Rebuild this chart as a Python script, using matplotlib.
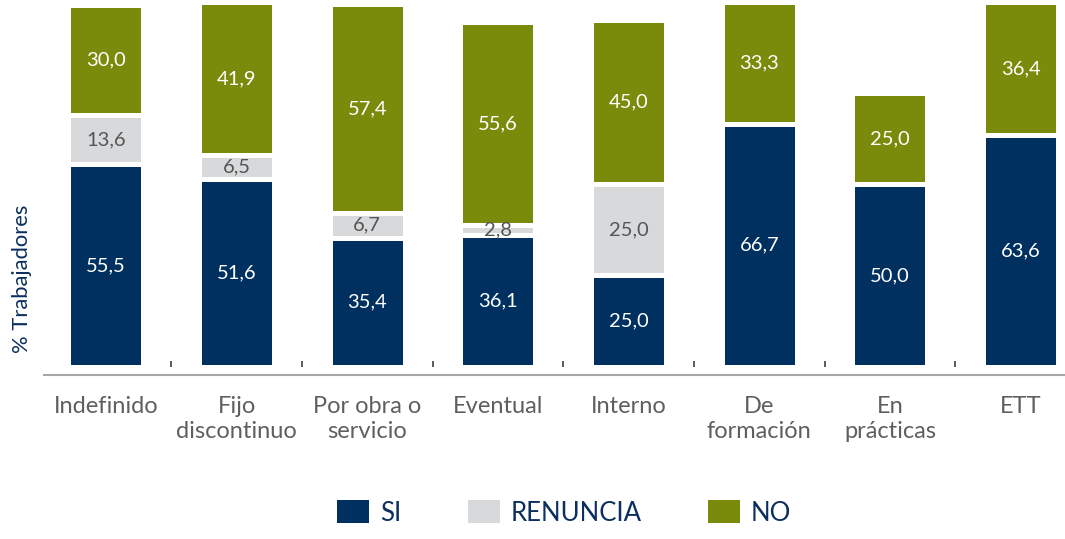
import matplotlib
matplotlib.use("Agg")
import matplotlib.pyplot as plt
import numpy as np
from matplotlib.transforms import blended_transform_factory

categories = ["Indefinido", "Fijo\ndiscontinuo", "Por obra o\nservicio", "Eventual",
              "Interno", "De\nformación", "En\nprácticas", "ETT"]
si = [55.5, 51.6, 35.4, 36.1, 25.0, 66.7, 50.0, 63.6]
renuncia = [13.6, 6.5, 6.7, 2.8, 25.0, 0.0, 0.0, 0.0]
no = [30.0, 41.9, 57.4, 55.6, 45.0, 33.3, 25.0, 36.4]
series_names = ["SI", "RENUNCIA", "NO"]

colors = ["#00305f", "#d8d9db", "#7a8a0a"]
label_colors = ["white", "#555555", "white"]

plt.rcParams['font.family'] = ['Lato', 'DejaVu Sans']

fig = plt.figure(figsize=(10.65, 5.39), dpi=100)
ax = fig.add_axes([44/1065, 1 - 366.5/539, 1 - 44/1065, 366.5/539])

x = np.arange(len(categories))
bottom = np.zeros(len(categories))
for vals, name, col, lc in zip([si, renuncia, no], series_names, colors, label_colors):
    vals = np.array(vals)
    bars = ax.bar(x, vals, width=0.574, bottom=bottom, color=col, edgecolor="white",
                  linewidth=3.6, label=name, clip_on=False)
    for xi, b, v in zip(x, bottom, vals):
        if v > 0:
            ax.text(xi, b + v / 2, f"{v:.1f}".replace(".", ","), ha="center", va="center",
                    color=lc, fontsize=14.5)
    bottom = bottom + vals

ax.set_xlim(-0.474, 7.34)
ax.set_ylim(0, 100.6)
ax.set_yticks([])
for s in ["left", "right", "top"]:
    ax.spines[s].set_visible(False)
ax.spines["bottom"].set_color("#a6a6a6")
ax.spines["bottom"].set_linewidth(1.5)
ax.spines["bottom"].set_position(("outward", 6))
ax.set_xticks(x)
ax.set_xticklabels(categories, fontsize=17, color="#5f5f5f", linespacing=1.28)
ax.tick_params(axis="x", length=0, pad=15)

# small separator ticks between categories
trans = blended_transform_factory(ax.transData, ax.transAxes)
ax.vlines(x[:-1] + 0.5, 0.0, 0.016, transform=trans, color="#404040", linewidth=1.2,
          clip_on=False)

fig.text(22/1065, 1 - 279/539, "% Trabajadores", rotation=90, ha="center", va="center",
         color="#0b2f5e", fontsize=15.8)

handles, labels = ax.get_legend_handles_labels()
leg = fig.legend(handles, labels, loc="center", bbox_to_anchor=(564/1065, 1 - 513/539),
                 ncol=3, frameon=False, fontsize=18.5, handlelength=1.25, handleheight=0.97,
                 handletextpad=0.4, columnspacing=2.6, labelcolor="#0b2f5e")
for h in leg.legend_handles:
    h.set_linewidth(0)

fig.savefig("out.png", dpi=100)
